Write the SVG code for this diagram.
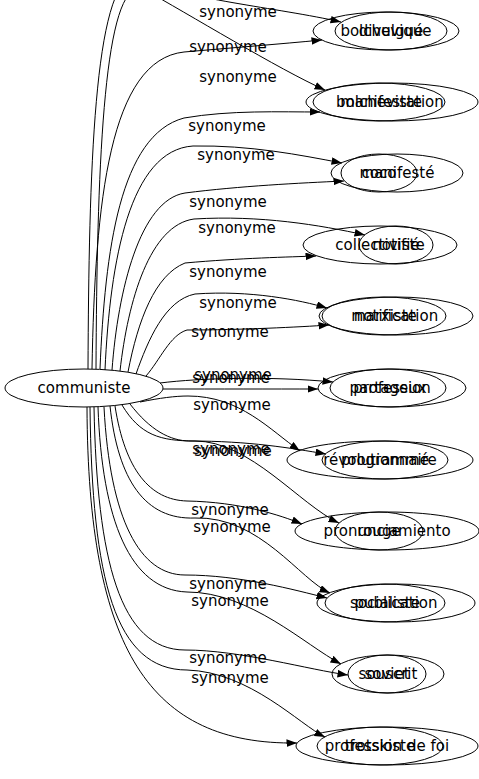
<svg xmlns="http://www.w3.org/2000/svg" width="479" height="779" viewBox="0 0 479 779">
<style>
.n ellipse{fill:none;stroke:#000;stroke-width:1}
text{font-family:"DejaVu Sans",sans-serif;font-size:15px;fill:#000;text-anchor:middle}
.e path{fill:none;stroke:#000;stroke-width:1;marker-end:url(#ah)}
</style>
<defs>
<marker id="ah" markerUnits="userSpaceOnUse" markerWidth="12" markerHeight="9" refX="10.5" refY="3.8" orient="auto">
<path d="M0,0 L10.5,3.8 L0,7.6 Z" fill="#000"/>
</marker>
</defs>
<rect width="479" height="779" fill="#fff"/>
<g id="connectors" class="e">
<path d="M88,369 C89,150 95,-60 150,-20 C175,-2 280,8 341,22"/>
<path d="M92,369 C95,200 110,60 184,52 C230,48 280,44 322,40"/>
<path d="M96,369 C97,160 104,-30 145,-10 C185,12 280,70 325,90"/>
<path d="M100,369 C105,250 120,135 184,118 C230,110 280,112 320,112"/>
<path d="M105,370 C110,260 130,150 193,146 C250,145 300,155 342,163"/>
<path d="M112,370 C118,290 140,200 185,193 C240,186 300,183 344,181"/>
<path d="M120,371 C128,300 150,225 194,219 C260,215 320,225 365,235"/>
<path d="M128,372 C138,320 155,275 185,263 C240,258 290,257 316,256"/>
<path d="M136,374 C148,340 165,300 195,294 C250,290 300,300 327,308"/>
<path d="M146,376 C160,360 170,335 187,330 C240,330 300,327 329,325"/>
<path d="M160,383 C200,378 270,376 333,382"/>
<path d="M163,389 C220,389 270,389 318,389"/>
<path d="M140,402 C160,398 175,396 188,396 C240,396 270,430 300,451"/>
<path d="M130,404 C150,430 170,441 190,441 C250,441 290,448 326,454"/>
<path d="M122,405 C140,435 160,441 195,441 C250,441 300,505 339,523"/>
<path d="M115,406 C125,470 150,500 187,501 C240,502 280,515 302,524"/>
<path d="M110,406 C118,480 145,520 195,518 C260,516 300,580 330,593"/>
<path d="M104,407 C110,520 140,575 185,575 C240,575 295,590 327,598"/>
<path d="M98,407 C102,520 130,590 187,592 C250,592 305,645 341,664"/>
<path d="M94,407 C97,560 120,650 185,650 C240,650 310,670 348,675"/>
<path d="M90,407 C92,580 115,670 187,670 C250,672 300,725 325,737"/>
<path d="M87,407 C88,650 150,745 297,743"/>
<text x="238" y="17">synonyme</text>
<text x="228" y="52">synonyme</text>
<text x="238" y="82">synonyme</text>
<text x="227" y="131">synonyme</text>
<text x="236" y="160">synonyme</text>
<text x="228" y="207">synonyme</text>
<text x="237" y="233">synonyme</text>
<text x="228" y="277">synonyme</text>
<text x="238" y="308">synonyme</text>
<text x="230" y="337">synonyme</text>
<text x="233" y="380">synonyme</text>
<text x="231" y="383">synonyme</text>
<text x="232" y="410">synonyme</text>
<text x="231" y="454">synonyme</text>
<text x="233" y="456">synonyme</text>
<text x="230" y="515">synonyme</text>
<text x="232" y="532">synonyme</text>
<text x="228" y="589">synonyme</text>
<text x="230" y="606">synonyme</text>
<text x="228" y="663">synonyme</text>
<text x="230" y="683">synonyme</text>
</g>
<g id="communiste" class="n"><ellipse cx="84" cy="388" rx="79" ry="19"/><text x="84" y="393">communiste</text></g>
<g id="bolchevique" class="n"><ellipse cx="386" cy="31" rx="73" ry="19"/><text x="386" y="36">bolchevique</text></g>
<g id="divulgue" class="n"><ellipse cx="391" cy="31" rx="56" ry="19"/><text x="391" y="36">divulgué</text></g>
<g id="manifestation" class="n"><ellipse cx="392" cy="102" rx="86" ry="19"/><text x="392" y="107">manifestation</text></g>
<g id="bolcheviste" class="n"><ellipse cx="379" cy="102" rx="66" ry="19"/><text x="379" y="107">bolcheviste</text></g>
<g id="manifeste" class="n"><ellipse cx="397" cy="173" rx="66" ry="19"/><text x="397" y="178">manifesté</text></g>
<g id="coco" class="n"><ellipse cx="379" cy="173" rx="38" ry="19"/><text x="379" y="178">coco</text></g>
<g id="collectiviste" class="n"><ellipse cx="380" cy="245" rx="77" ry="19"/><text x="380" y="250">collectiviste</text></g>
<g id="notifie" class="n"><ellipse cx="396" cy="245" rx="37" ry="19"/><text x="396" y="250">notifié</text></g>
<g id="notification" class="n"><ellipse cx="396" cy="316" rx="77" ry="19"/><text x="396" y="321">notification</text></g>
<g id="marxiste" class="n"><ellipse cx="384" cy="316" rx="62" ry="19"/><text x="384" y="321">marxiste</text></g>
<g id="profession" class="n"><ellipse cx="392" cy="388" rx="74" ry="19"/><text x="392" y="393">profession</text></g>
<g id="partageux" class="n"><ellipse cx="388" cy="388" rx="58" ry="19"/><text x="388" y="393">partageux</text></g>
<g id="revolutionnaire" class="n"><ellipse cx="380" cy="460" rx="93" ry="19"/><text x="380" y="465">révolutionnaire</text></g>
<g id="programme" class="n"><ellipse cx="385" cy="460" rx="63" ry="19"/><text x="385" y="465">programmé</text></g>
<g id="pronunciamiento" class="n"><ellipse cx="387" cy="531" rx="92" ry="19"/><text x="387" y="536">pronunciamiento</text></g>
<g id="rouge" class="n"><ellipse cx="379" cy="531" rx="44" ry="19"/><text x="379" y="536">rouge</text></g>
<g id="publication" class="n"><ellipse cx="396" cy="603" rx="79" ry="19"/><text x="396" y="608">publication</text></g>
<g id="socialiste" class="n"><ellipse cx="385" cy="603" rx="60" ry="19"/><text x="385" y="608">socialiste</text></g>
<g id="souscrit" class="n"><ellipse cx="388" cy="674" rx="56" ry="19"/><text x="388" y="679">souscrit</text></g>
<g id="soviet" class="n"><ellipse cx="387" cy="674" rx="39" ry="19"/><text x="387" y="679">soviet</text></g>
<g id="profession_de_foi" class="n"><ellipse cx="387" cy="746" rx="91" ry="19"/><text x="387" y="751">profession de foi</text></g>
<g id="trotskiste" class="n"><ellipse cx="380" cy="746" rx="63" ry="19"/><text x="380" y="751">trotskiste</text></g>
</svg>
